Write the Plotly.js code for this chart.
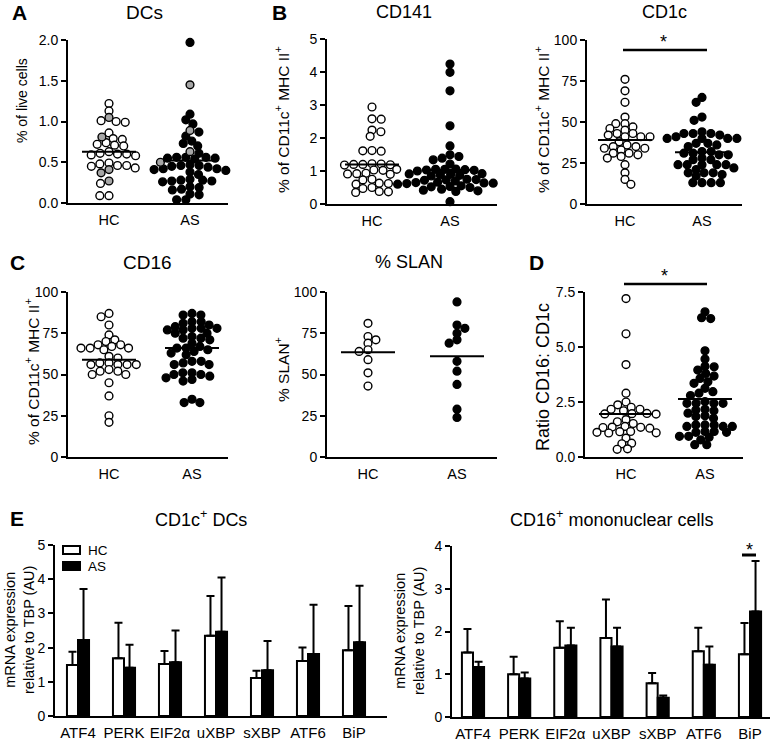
<!DOCTYPE html>
<html><head><meta charset="utf-8">
<script src="https://cdn.plot.ly/plotly-3.0.1.min.js"></script>
<style>html,body{margin:0;padding:0;background:#fff}#chart{width:774px;height:743px}</style>
</head><body><div id="chart"></div>
<script>
// ---------- DATA ----------
const groups = ['HC', 'AS'];
// A: DCs (% of live cells)
const dcsHC = [1.22,1.13,1.00,0.99,1.01,0.86,0.79,0.78,0.74,0.71,0.70,0.72,0.63,0.61,0.60,0.59,0.58,0.60,0.49,0.48,0.46,0.46,0.45,0.43,0.24,0.09,0.09];
const dcsHCGrey = [1.05,0.81,0.41,0.37,0.27];
const dcsAS = [1.97,1.09,1.02,0.97,0.87,0.82,0.76,0.73,0.70,0.61,0.56,0.55,0.56,0.54,0.55,0.56,0.47,0.46,0.45,0.44,0.46,0.42,0.41,0.40,0.42,0.38,0.35,0.28,0.27,0.28,0.27,0.29,0.26,0.19,0.17,0.16,0.20,0.10,0.11,0.04,0.04];
const dcsASGrey = [1.45,0.89,0.63,0.50];
const dcsMedian = [0.63, 0.52];
// B: CD141
const cd141HC = [2.94,2.58,2.57,2.24,2.19,2.05,1.62,1.60,1.61,1.22,1.20,1.18,1.19,1.21,1.20,1.03,1.02,1.05,0.93,0.92,0.90,0.91,0.75,0.73,0.62,0.63,0.60,0.50,0.47,0.38,0.35,0.37];
const cd141AS = [4.24,3.99,3.43,2.37,1.76,1.49,1.44,1.39,1.34,1.21,1.05,1.03,1.02,1.05,1.04,1.06,1.00,0.92,0.90,0.88,0.91,0.87,0.85,0.75,0.73,0.72,0.74,0.70,0.66,0.65,0.63,0.64,0.62,0.60,0.62,0.55,0.52,0.50,0.53,0.45,0.42,0.40,0.38,0.07];
const cd141Median = [1.20, 1.03];
// B: CD1c
const cd1cHC = [76,69,62,53,49,49,47,46,45,43,43,42,41,41,41,38,36,35,35,34,34,33,31,31,30,29,28,24,19,15,12];
const cd1cAS = [65,62,53,51,44,43,43,43,42,40,40,40,41,40,37,36,35,37,32,31,30,30,31,32,28,27,27,24,24,24,24,24,22,21,19,19,19,18,17,13,13,13,13];
const cd1cMedian = [39, 31.5];
// C: CD16
const cd16HC = [87,85,80,74,71,70,68,68,67,66,66,65,66,61,60,57,57,56,56,56,56,53,52,52,50,50,45,37,25,21];
const cd16AS = [87,86,86,82,82,81,80,79,78,78,78,77,77,75,75,73,72,72,71,69,67,66,66,65,64,63,62,58,58,57,56,56,51,51,50,50,49,48,47,46,35,33,33];
const cd16Median = [59, 66];
// C: % SLAN
const slanHC = [81,73,71,69,65,64,59,51,43];
const slanAS = [94,80,78,75,71,69,58,52,44,29,24];
const slanMedian = [63.5, 61];
// D: Ratio CD16 : CD1c
const ratioHC = [7.2,5.6,4.2,2.9,2.5,2.37,2.26,2.17,2.17,2.10,1.97,1.96,1.95,1.98,1.60,1.52,1.70,1.39,1.35,1.34,1.36,1.31,1.16,1.09,1.12,1.10,1.15,0.86,0.63,0.60,0.37,0.35];
const ratioAS = [6.6,6.29,6.33,4.83,4.45,4.13,3.95,4.10,3.68,3.80,3.42,3.35,3.57,3.12,2.97,2.90,2.79,2.52,2.44,2.44,2.44,2.44,2.17,2.10,2.14,1.99,1.87,1.84,1.76,1.46,1.46,1.46,1.39,1.39,1.39,1.16,1.12,1.12,1.16,0.94,0.94,0.90,0.78,0.56,0.56];
const ratioMedian = [1.95, 2.64];
// E: mRNA expression
const genes = ['ATF4','PERK','EIF2α','uXBP','sXBP','ATF6','BiP'];
const dcHCmean = [1.49,1.69,1.52,2.35,1.11,1.61,1.92];
const dcHCsd   = [0.39,1.04,0.38,1.16,0.21,0.39,1.30];
const dcASmean = [2.22,1.41,1.57,2.46,1.34,1.81,2.16];
const dcASsd   = [1.49,0.67,0.93,1.59,0.85,1.44,1.65];
const moHCmean = [1.51,1.00,1.62,1.85,0.79,1.54,1.47];
const moHCsd   = [0.55,0.41,0.62,0.90,0.24,0.55,0.73];
const moASmean = [1.17,0.90,1.67,1.65,0.45,1.22,2.47];
const moASsd   = [0.12,0.14,0.42,0.44,0.05,0.43,1.18];

// ---------- LAYOUT HELPERS ----------
const W = 774, H = 743;
const FONT = 'Liberation Sans, Arial, Helvetica, sans-serif';
const layout = {width: W, height: H, margin: {l:0, r:0, t:0, b:0}, showlegend: false,
  paper_bgcolor: '#fff', plot_bgcolor: 'rgba(0,0,0,0)', font: {family: FONT, color: '#000', size: 14},
  annotations: [], shapes: [], bargap: 0.52, bargroupgap: 0, barmode: 'group'};
const traces = [];
function f(size) { return {size: size, family: FONT, color: '#000'}; }
function ann(text, x, y, opts) {
  layout.annotations.push(Object.assign({text: text, x: x / W, y: 1 - y / H, xref: 'paper', yref: 'paper',
    showarrow: false, xanchor: 'center', yanchor: 'middle', font: f(14)}, opts || {}));
}
function hline(x0, x1, y, w) {
  layout.shapes.push({type: 'line', xref: 'paper', yref: 'paper', x0: x0 / W, x1: x1 / W, y0: 1 - y / H, y1: 1 - y / H,
    line: {color: '#000', width: w}});
}
function yAxisCfg(yt, yb, ymax, dtick, fmt, anchor) {
  const vals = []; for (let v = 0; v <= ymax + 1e-9; v += dtick) vals.push(+v.toFixed(4));
  return {domain: [1 - yb / H, 1 - yt / H], range: [0, ymax], tickvals: vals, tickformat: fmt,
    ticks: 'outside', ticklen: 5, tickwidth: 2, tickcolor: '#000', showline: true, linewidth: 2, linecolor: '#000',
    showgrid: false, zeroline: false, tickfont: f(14), anchor: anchor, fixedrange: true};
}
// beeswarm: horizontal offsets (px) computed from the values by (elliptic) collision avoidance
function swarm(vals, pxPerY, dx, dy) {
  const s = dx / dy;
  const idx = vals.map((v, i) => i).sort((a, b) => vals[b] - vals[a]);
  const placed = [], off = new Array(vals.length);
  let flip = 1;
  for (const i of idx) {
    const y = vals[i] * pxPerY * s;
    const near = placed.filter(p => Math.abs(p.y - y) < dx);
    const cands = [0];
    near.forEach(p => { const h = Math.sqrt(dx * dx - (p.y - y) * (p.y - y)); cands.push(p.x + h, p.x - h); });
    const ok = cands.filter(c => near.every(p => (p.x - c) * (p.x - c) + (p.y - y) * (p.y - y) >= dx * dx - 0.05));
    ok.sort((a, b) => (Math.abs(a) - Math.abs(b)) || flip * (b - a));
    off[i] = ok[0]; placed.push({x: ok[0], y: y}); flip = -flip;
  }
  return off;
}

// ---------- SCATTER PANELS ----------
const panels = [
  {xl:68, xr:228, yt:40, yb:203, hc:109, as:190, ymax:2, dtick:0.5, fmt:'.1f', title:'DCs', tx:144, ty:12, ts:19,
   ytitle:'% of live cells', ytx:22, yty:101, ys:14, letter:'A', lx:19, ly:13,
   sets:[[dcsHC, dcsHCGrey], [dcsAS, dcsASGrey]], med: dcsMedian},
  {xl:327, xr:497, yt:39, yb:204, hc:372, as:450, ymax:5, dtick:1, fmt:'d', title:'CD141', tx:404, ty:12, ts:18,
   ytitle:'% of CD11c<sup>+</sup> MHC II<sup>+</sup>', ytx:282, yty:120, ys:15.5, letter:'B', lx:279, ly:13,
   sets:[[cd141HC, []], [cd141AS, []]], med: cd141Median},
  {xl:587, xr:742, yt:40, yb:204, hc:625, as:702, ymax:100, dtick:25, fmt:'d', title:'CD1c', tx:664, ty:12, ts:18,
   ytitle:'% of CD11c<sup>+</sup> MHC II<sup>+</sup>', ytx:542, yty:120, ys:15.5, letter:'',
   sets:[[cd1cHC, []], [cd1cAS, []]], med: cd1cMedian},
  {xl:68, xr:228, yt:292, yb:457, hc:109, as:192, ymax:100, dtick:25, fmt:'d', title:'CD16', tx:147, ty:262, ts:19,
   ytitle:'% of CD11c<sup>+</sup> MHC II<sup>+</sup>', ytx:32, yty:372, ys:15.5, letter:'C', lx:17, ly:262,
   sets:[[cd16HC, []], [cd16AS, []]], med: cd16Median},
  {xl:327, xr:497, yt:292, yb:457, hc:368, as:457, ymax:100, dtick:25, fmt:'d', title:'% SLAN', tx:409, ty:262, ts:18,
   ytitle:'% SLAN<sup>+</sup>', ytx:282, yty:370, ys:15.5, letter:'',
   sets:[[slanHC, []], [slanAS, []]], med: slanMedian},
  {xl:585, xr:743, yt:292, yb:457, hc:626, as:705, ymax:7.5, dtick:2.5, fmt:'.1f', title:'', tx:0, ty:0, ts:18,
   ytitle:'Ratio CD16: CD1c', ytx:543, yty:377, ys:18, letter:'D', lx:536, ly:262,
   sets:[[ratioHC, []], [ratioAS, []]], med: ratioMedian}
];

panels.forEach((p, k) => {
  const n = k + 1, sx = n === 1 ? '' : String(n);
  const unit = p.as - p.hc;
  layout['xaxis' + sx] = {domain: [p.xl / W, p.xr / W], range: [(p.xl - p.hc) / unit, (p.xr - p.hc) / unit],
    tickvals: [0, 1], ticktext: groups, ticks: '', showline: true, linewidth: 2, linecolor: '#000',
    showgrid: false, zeroline: false, tickfont: f(14.5), ticklabelstandoff: 3,
    anchor: 'y' + sx, fixedrange: true};
  layout['yaxis' + sx] = yAxisCfg(p.yt, p.yb, p.ymax, p.dtick, p.fmt, 'x' + sx);
  const pxPerY = (p.yb - p.yt) / p.ymax;
  p.sets.forEach((set, g) => {
    const main = set[0], grey = set[1];
    const all = main.concat(grey);
    const off = swarm(all, pxPerY, 9.2, 6.4);
    const xs = off.map(o => g + o / unit);
    const mk = (vals, xv, fill) => traces.push({type: 'scatter', mode: 'markers', x: xv, y: vals,
      xaxis: 'x' + sx, yaxis: 'y' + sx, cliponaxis: false, hoverinfo: 'skip',
      marker: {symbol: 'circle', size: 7.8, color: fill, line: {color: '#000', width: 1.4}}});
    mk(main, xs.slice(0, main.length), g === 0 ? '#fff' : '#000');
    if (grey.length) mk(grey, xs.slice(main.length), '#a6a6a6');
    const hw = 27 / unit;
    traces.push({type: 'scatter', mode: 'lines', x: [g - hw, g + hw], y: [p.med[g], p.med[g]],
      xaxis: 'x' + sx, yaxis: 'y' + sx, cliponaxis: false, hoverinfo: 'skip', line: {color: '#000', width: 2}});
  });
  if (p.title) ann(p.title, p.tx, p.ty, {font: f(p.ts)});
  ann(p.ytitle, p.ytx, p.yty, {textangle: -90, font: f(p.ys)});
  if (p.letter) ann('<b>' + p.letter + '</b>', p.lx, p.ly, {font: f(21)});
});

// significance bars (CD1c, ratio)
hline(623, 707, 50, 2.5); ann('*', 663, 42, {font: f(18)});
hline(624, 707, 284, 2.5); ann('*', 664, 276, {font: f(18)});

// ---------- BAR PANELS (E) ----------
const barPanels = [
  {xl:55, xr:387, yt:545, yb:716, c0:78, c6:354, ymax:5, title:'CD1c<sup>+</sup> DCs', tx:201, ty:518, ytx:19, yty:630,
   hc: dcHCmean, hcsd: dcHCsd, as: dcASmean, assd: dcASsd},
  {xl:452, xr:770, yt:546, yb:717, c0:473, c6:750, ymax:4, title:'CD16<sup>+</sup> mononuclear cells', tx:611, ty:518, ytx:409, yty:631,
   hc: moHCmean, hcsd: moHCsd, as: moASmean, assd: moASsd}
];
barPanels.forEach((p, k) => {
  const n = 7 + k, sx = String(n);
  const unit = (p.c6 - p.c0) / 6;
  layout['xaxis' + sx] = {domain: [p.xl / W, p.xr / W], type: 'category', categoryorder: 'array', categoryarray: genes,
    range: [(p.xl - p.c0) / unit, (p.xr - p.c0) / unit], ticks: '', showline: true, linewidth: 2, linecolor: '#000',
    showgrid: false, zeroline: false, tickfont: f(15), ticklabelstandoff: 2,
    anchor: 'y' + sx, fixedrange: true};
  layout['yaxis' + sx] = yAxisCfg(p.yt, p.yb, p.ymax, 1, 'd', 'x' + sx);
  const eb = (arr) => ({type: 'data', symmetric: false, array: arr, arrayminus: arr.map(() => 0),
    color: '#000', thickness: 2, width: 4});
  traces.push({type: 'bar', x: genes, y: p.hc, name: 'HC', xaxis: 'x' + sx, yaxis: 'y' + sx, hoverinfo: 'skip',
    marker: {color: '#fff', line: {color: '#000', width: 2}}, error_y: eb(p.hcsd), cliponaxis: false});
  traces.push({type: 'bar', x: genes, y: p.as, name: 'AS', xaxis: 'x' + sx, yaxis: 'y' + sx, hoverinfo: 'skip',
    marker: {color: '#000', line: {color: '#000', width: 2}}, error_y: eb(p.assd), cliponaxis: false});
  ann(p.title, p.tx, p.ty, {font: f(18)});
  ann('mRNA expression<br>relative to TBP (AU)', p.ytx, p.yty, {textangle: -90, font: f(14.5)});
});
ann('<b>E</b>', 17, 518, {font: f(21)});
// legend (drawn manually, Prism style)
layout.shapes.push({type: 'rect', xref: 'paper', yref: 'paper', x0: 63 / W, x1: 80 / W, y0: 1 - 554 / H, y1: 1 - 546 / H,
  fillcolor: '#fff', line: {color: '#000', width: 2}});
layout.shapes.push({type: 'rect', xref: 'paper', yref: 'paper', x0: 63 / W, x1: 80 / W, y0: 1 - 570 / H, y1: 1 - 562 / H,
  fillcolor: '#000', line: {color: '#000', width: 2}});
ann('HC', 86, 550, {xanchor: 'left', font: f(13.5)});
ann('AS', 86, 566, {xanchor: 'left', font: f(13.5)});
// significance BiP
hline(742, 756, 555, 3); ann('*', 749, 550, {font: f(18)});

Plotly.newPlot('chart', traces, layout, {displayModeBar: false, staticPlot: true});
</script></body></html>
